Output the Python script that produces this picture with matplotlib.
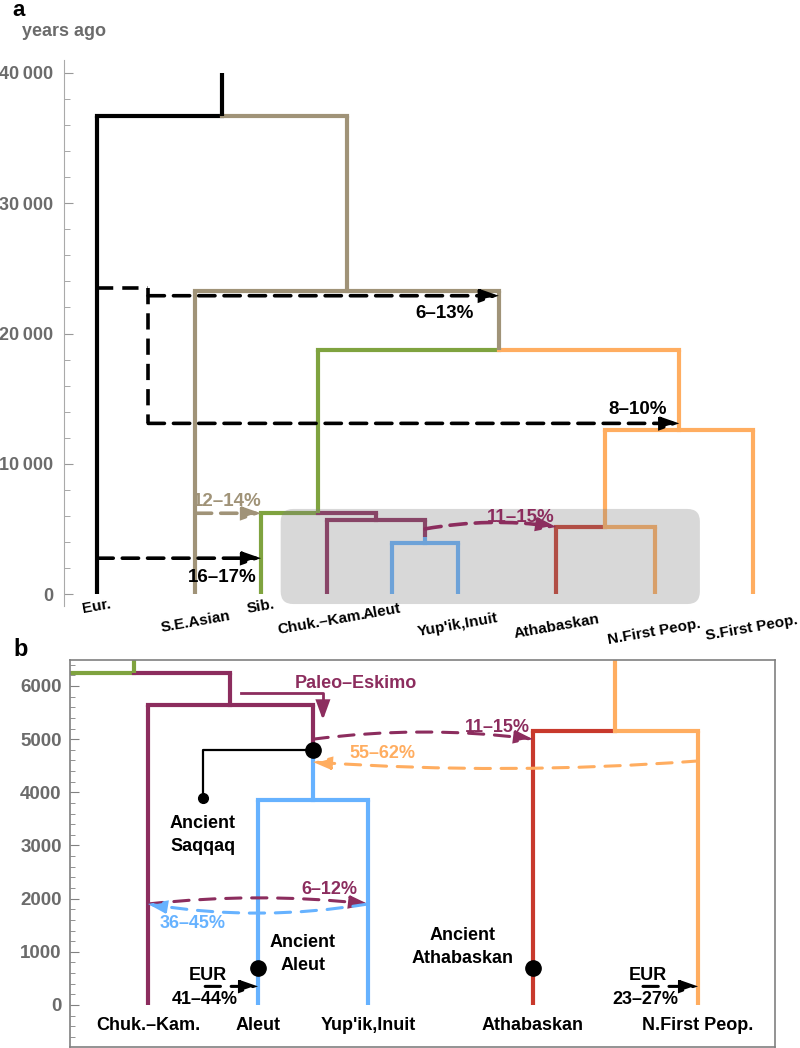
import matplotlib
matplotlib.use("Agg")
import matplotlib.pyplot as plt
from matplotlib.patches import FancyArrowPatch, FancyBboxPatch
from matplotlib.ticker import MultipleLocator, FuncFormatter

plt.rcParams['font.family'] = ['Liberation Sans', 'DejaVu Sans']
plt.rcParams['font.weight'] = 'bold'

# ---- panel a: full tree (years ago) ----
leaf_names_a = ["Eur.", "S.E.Asian", "Sib.", "Chuk.–Kam.", "Aleut",
                "Yup'ik,Inuit", "Athabaskan", "N.First Peop.", "S.First Peop."]
node_names_a = ["eskimo", "chuk", "paleo", "north", "first", "americas", "asia", "root"]
node_left_a = ["Aleut", "Chuk.–Kam.", "Sib.", "Athabaskan", "north", "paleo", "S.E.Asian", "Eur."]
node_right_a = ["Yup'ik,Inuit", "eskimo", "chuk", "N.First Peop.", "S.First Peop.",
                "first", "americas", "asia"]
node_years_a = [3900, 5700, 6200, 5150, 12600, 18700, 23300, 36700]
root_top_a = 40000
paleo_switch_a = 4400

ghost_years_a = [23500, 13100]  # dashed ghost lineage out of Eur.
pulse_labels_a = ["6–13%", "8–10%", "16–17%", "12–14%", "11–15%"]
pulse_years_a = [22900, 13100, 2750, 6200, 5000]
pulse_end_years_a = [22900, 13100, 2750, 6200, 5150]

# ---- panel b: Arctic detail ----
leaf_names_b = ["Sib.", "Chuk.–Kam.", "Aleut", "Yup'ik,Inuit", "Athabaskan", "N.First Peop."]
node_names_b = ["eskimo", "chuk", "paleo", "north"]
node_left_b = ["Aleut", "Chuk.–Kam.", "Sib.", "Athabaskan"]
node_right_b = ["Yup'ik,Inuit", "eskimo", "chuk", "N.First Peop."]
node_years_b = [3850, 5650, 6250, 5150]
paleo_switch_b = 4800
saqqaq_years = [4800, 3900]
ancient_aleut_years = 700
ancient_athabaskan_years = 700
paleo_arrow_years = [5870, 5360]
pulse_labels_b = ["11–15%", "55–62%", "6–12%", "36–45%", "41–44%", "23–27%"]
pulse_years_b = [5000, 4590, 1900, 1900, 350, 350]
pulse_end_years_b = [5000, 4570, 1900, 1900, 350, 350]

# layout
leaf_x_a = [0, 1.5, 2.5, 3.5, 4.5, 5.5, 7, 8.5, 10]
leaf_x_b = [-1, 0, 1, 2, 3.5, 5]
label_off_a = [(0, 13), (0, 28), (0, 13), (-5, 28), (-10, 18), (0, 31), (0, 33), (0, 38), (-1, 34)]

BLACK, TAN, GREEN, PURPLE = "#000000", "#a09378", "#7fa33f", "#8c2d5e"
BLUE, RED, ORANGE = "#66b2ff", "#c8392c", "#ffad60"
COL = {"Eur.": BLACK, "root": BLACK, "asia": TAN, "S.E.Asian": TAN, "americas": TAN,
       "paleo": GREEN, "Sib.": GREEN, "chuk": PURPLE, "Chuk.–Kam.": PURPLE,
       "eskimo": BLUE, "Aleut": BLUE, "Yup'ik,Inuit": BLUE, "first": ORANGE,
       "north": ORANGE, "S.First Peop.": ORANGE, "Athabaskan": RED, "N.First Peop.": ORANGE}
GREY_TXT = "#6b6b6b"

W, H = 800, 1048
fig = plt.figure(figsize=(W / 100, H / 100), dpi=100)


def ftext(x, y, s, **kw):
    kw.setdefault('ha', 'center')
    kw.setdefault('va', 'center')
    fig.text(x / W, 1 - y / H, s, **kw)


def draw_tree(ax, leaves, leaf_x, names, lefts, rights, years, switch, lw=3):
    x = dict(zip(leaves, leaf_x))
    y = dict.fromkeys(leaves, 0)
    for n, l, r, t in zip(names, lefts, rights, years):
        x[n] = (x[l] + x[r]) / 2
        y[n] = t
    for n, l, r, t in zip(names, lefts, rights, years):
        for c in (l, r):
            # the eskimo branch starts out paleo-eskimo coloured
            top = COL[n] if c == "eskimo" else COL[c]
            ax.plot([x[n], x[c]], [t, t], color=top, lw=lw,
                    solid_capstyle='projecting', zorder=2)
            if c == "eskimo":
                ax.plot([x[c]] * 2, [t, switch], color=top, lw=lw,
                        solid_capstyle='butt', zorder=2)
                ax.plot([x[c]] * 2, [switch, y[c]], color=COL[c], lw=lw,
                        solid_capstyle='butt', zorder=2)
            else:
                ax.plot([x[c]] * 2, [t, y[c]], color=COL[c], lw=lw,
                        solid_capstyle='butt', zorder=2)
    return x, y


def arrow(ax, p0, p1, color, rad=0.0, lw=2.6, dash=(4.5, 2.5), head=(10, 3.5), z=4):
    ls = (0, dash) if dash else '-'
    ax.add_patch(FancyArrowPatch(p0, p1,
                                 arrowstyle=f"-|>,head_length={head[0]},head_width={head[1]}",
                                 connectionstyle=f"arc3,rad={rad}", color=color, lw=lw,
                                 linestyle=ls, shrinkA=0, shrinkB=0, mutation_scale=1,
                                 joinstyle='miter', zorder=z))


# ================= panel a =================
ax = fig.add_axes([64 / W, 1 - 606 / H, (W - 64) / W, (606 - 60) / H])
ax.set_xlim(-0.503, 10.716)
ax.set_ylim(-921, 40998)
xa, ya = draw_tree(ax, leaf_names_a, leaf_x_a, node_names_a, node_left_a, node_right_a,
                   node_years_a, paleo_switch_a)
ax.plot([xa["root"]] * 2, [node_years_a[-1], root_top_a], color=BLACK, lw=3,
        solid_capstyle='butt', zorder=2)

# shaded Arctic box
asp = (41919 / 546) / (11.219 / 736)
ax.add_patch(FancyBboxPatch((2.80, -770), 6.39, 7300,
                            boxstyle="round,pad=0,rounding_size=0.19",
                            mutation_aspect=asp, fc="#7f7f7f", ec='none',
                            alpha=0.3, zorder=3))

# ghost lineage from Eur.
elbow = 0.78
ds = dict(color=BLACK, lw=2.6, ls=(0, (4.5, 2.5)), zorder=4)
ax.plot([xa["Eur."], elbow], [ghost_years_a[0]] * 2, **ds)
ax.plot([elbow, elbow], ghost_years_a, **ds)
arrow(ax, (elbow, pulse_years_a[0]), (xa["americas"], pulse_end_years_a[0]), BLACK)
arrow(ax, (elbow, pulse_years_a[1]), (xa["first"], pulse_end_years_a[1]), BLACK)
arrow(ax, (xa["Eur."], pulse_years_a[2]), (xa["Sib."], pulse_end_years_a[2]), BLACK)
arrow(ax, (xa["S.E.Asian"], pulse_years_a[3]), (xa["Sib."], pulse_end_years_a[3]), TAN)
arrow(ax, (xa["eskimo"], pulse_years_a[4]), (xa["Athabaskan"], pulse_end_years_a[4]),
      PURPLE, rad=-0.08)

ftext(445, 314, pulse_labels_a[0], fontsize=13.5)
ftext(638, 410, pulse_labels_a[1], fontsize=13.5)
ftext(222, 577, pulse_labels_a[2], fontsize=13.5)
ftext(227, 502, pulse_labels_a[3], fontsize=13.5, color=TAN)
ftext(521, 517, pulse_labels_a[4], fontsize=13.5, color=PURPLE)

for name, x0, (dx, dy) in zip(leaf_names_a, leaf_x_a, label_off_a):
    ax.annotate(name, (x0, 0), xytext=(dx, -dy), textcoords='offset pixels',
                ha='center', va='center', rotation=10, fontsize=11,
                annotation_clip=False)

for s in ['top', 'right', 'bottom']:
    ax.spines[s].set_visible(False)
ax.spines['left'].set_color('#aaaaaa')
ax.set_xticks([])
ax.yaxis.set_major_locator(MultipleLocator(10000))
ax.yaxis.set_minor_locator(MultipleLocator(2000))
ax.yaxis.set_major_formatter(FuncFormatter(lambda v, _: f"{int(v):,}".replace(",", "\u2009")))
ax.tick_params(axis='y', which='both', direction='in', color='#999999', labelcolor=GREY_TXT,
               labelsize=13, pad=8)
ax.tick_params(axis='y', which='major', length=6.5)
ax.tick_params(axis='y', which='minor', length=4.3)
ax.patch.set_alpha(0)

ftext(19, 10, "a", fontsize=16)
ftext(64, 32, "years ago", fontsize=13, color=GREY_TXT)

# ================= panel b =================
bx = fig.add_axes([70 / W, 1 - 1047 / H, (775 - 70) / W, (1047 - 660) / H])
bx.set_xlim(-0.709, 5.7)
bx.set_ylim(-790, 6489)
xb, yb = draw_tree(bx, leaf_names_b, leaf_x_b, node_names_b, node_left_b, node_right_b,
                   node_years_b, paleo_switch_b)
for n in ["paleo", "north"]:
    bx.plot([xb[n]] * 2, [yb[n], 7000], color=COL[n], lw=3, solid_capstyle='butt', zorder=2)

# Saqqaq
saq_x = 0.5
bx.plot([xb["eskimo"], saq_x, saq_x], [saqqaq_years[0], saqqaq_years[0], saqqaq_years[1]],
        color=BLACK, lw=1.6, zorder=4)
bx.plot(saq_x, saqqaq_years[1], 'o', color=BLACK, ms=7, zorder=5)
bx.plot(xb["eskimo"], saqqaq_years[0], 'o', color=BLACK, ms=11, zorder=5)
bx.plot(xb["Aleut"], ancient_aleut_years, 'o', color=BLACK, ms=11, zorder=5)
bx.plot(xb["Athabaskan"], ancient_athabaskan_years, 'o', color=BLACK, ms=11, zorder=5)

# Paleo-Eskimo arrow
pe_x0, pe_x1 = 0.845, xb["eskimo"] + 0.09
bx.plot([pe_x0, pe_x1, pe_x1], [paleo_arrow_years[0]] * 2 + [paleo_arrow_years[1] + 200],
        color=PURPLE, lw=2, zorder=4)
arrow(bx, (pe_x1, paleo_arrow_years[1] + 300), (pe_x1, paleo_arrow_years[1]), PURPLE,
      lw=2, dash=None, head=(11, 4))

bd = dict(lw=2.2, dash=(5, 3.5))
arrow(bx, (xb["eskimo"], pulse_years_b[0]), (xb["Athabaskan"], pulse_end_years_b[0]),
      PURPLE, rad=-0.064, **bd)
arrow(bx, (xb["N.First Peop."], pulse_years_b[1]), (xb["eskimo"], pulse_end_years_b[1]),
      ORANGE, rad=-0.036, **bd)
arrow(bx, (xb["Chuk.–Kam."], pulse_years_b[2]), (xb["Yup'ik,Inuit"], pulse_end_years_b[2]),
      PURPLE, rad=-0.055, **bd)
arrow(bx, (xb["Yup'ik,Inuit"], pulse_years_b[3]), (xb["Chuk.–Kam."], pulse_end_years_b[3]),
      BLUE, rad=-0.082, **bd)
arrow(bx, (0.52, pulse_years_b[4]), (xb["Aleut"], pulse_end_years_b[4]), BLACK, **bd)
arrow(bx, (4.5, pulse_years_b[5]), (xb["N.First Peop."], pulse_end_years_b[5]), BLACK, **bd)

ftext(356, 683, "Paleo–Eskimo", fontsize=13, color=PURPLE)
ftext(497, 727, pulse_labels_b[0], fontsize=13, color=PURPLE)
ftext(382, 753, pulse_labels_b[1], fontsize=13, color=ORANGE)
ftext(329, 890, pulse_labels_b[2], fontsize=13, color=PURPLE)
ftext(193, 924, pulse_labels_b[3], fontsize=13, color=BLUE)
ftext(208, 975, "EUR", fontsize=13)
ftext(205, 1000, pulse_labels_b[4], fontsize=13)
ftext(648, 975, "EUR", fontsize=13)
ftext(645, 1000, pulse_labels_b[5], fontsize=13)
ftext(203, 835, "Ancient\nSaqqaq", fontsize=13, linespacing=1.45)
ftext(303, 954, "Ancient\nAleut", fontsize=13, linespacing=1.45)
ftext(463, 947, "Ancient\nAthabaskan", fontsize=13, linespacing=1.45)

for name, x0 in zip(leaf_names_b[1:], leaf_x_b[1:]):
    bx.annotate(name, (x0, 0), xytext=(0, -21), textcoords='offset pixels',
                ha='center', va='center', fontsize=13)

for s in bx.spines.values():
    s.set_color('#808080')
    s.set_linewidth(1.2)
bx.set_xticks([])
bx.yaxis.set_major_locator(MultipleLocator(1000))
bx.yaxis.set_minor_locator(MultipleLocator(200))
bx.tick_params(axis='y', which='both', direction='in', color='#808080', labelcolor=GREY_TXT,
               labelsize=13.5, pad=6)
bx.tick_params(axis='y', which='major', length=6.5)
bx.tick_params(axis='y', which='minor', length=3.6)

ftext(21, 650, "b", fontsize=17)

fig.savefig("out.png", dpi=100)
